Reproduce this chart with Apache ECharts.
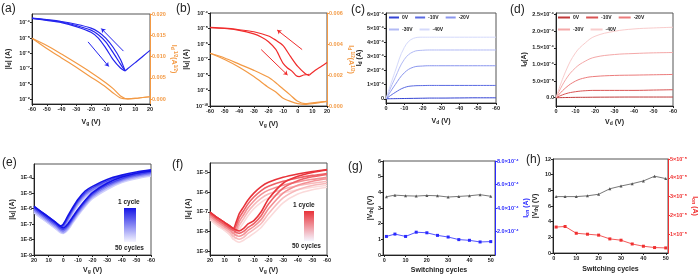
<!DOCTYPE html>
<html>
<head>
<meta charset="utf-8">
<script src="https://cdn.jsdelivr.net/npm/echarts@6/dist/echarts.min.js"></script>
<style>
html, body { margin: 0; padding: 0; background: #fff; }
#main { width: 700px; height: 275px; }
</style>
</head>
<body>
<div id="main"></div>
<script>
// ---------- (a) transfer curve, device 1 ----------
const aVg = [-60, -50, -40, -30, -20, -15, -10, -5, 0, 3];
const aLogIdRev = [-3.7, -3.8, -3.92, -4.1, -4.35, -4.6, -5.0, -5.6, -6.4, -7.1];
const aLogIdMid = [-3.71, -3.82, -3.95, -4.18, -4.48, -4.78, -5.25, -5.95, -6.7, -7.12];
const aLogIdFwd = [-3.72, -3.85, -3.99, -4.25, -4.62, -5.0, -5.65, -6.4, -6.95, -7.15];
const aVgRight = [3, 5, 10, 15, 20];
const aLogIdRight = [-7.15, -6.98, -6.6, -6.2, -5.8];
const aVgSq = [-60, -50, -40, -30, -20, -10, -5, 0, 5, 10, 20];
const aSqrtRev = [0.0143, 0.0126, 0.0106, 0.0085, 0.0063, 0.0039, 0.0025, 0.0008, 0.0001, 0.0002, 0.0006];
const aSqrtFwd = [0.0143, 0.0119, 0.0097, 0.0075, 0.0052, 0.0029, 0.0015, 0.0003, 0.0001, 0.0002, 0.0006];
const aArrows = [[[2, -5.85], [-13, -4.38]], [[-22, -5.25], [-8, -6.85]]];
const aLogTicks = [-9, -8, -7, -6, -5, -4];
const aSqrtTicks = [0, 0.005, 0.01, 0.015, 0.02];

// ---------- (b) transfer curve, device 2 ----------
const bVgRev = [-60, -50, -40, -30, -20, -15, -10, -5, 0, 5, 8];
const bLogIdRev = [-4.93, -4.98, -5.08, -5.21, -5.48, -5.75, -6.1, -6.8, -7.45, -7.9, -8.05];
const bVgFwd = [-60, -50, -40, -30, -25, -20, -15, -12, -10, -7, -4, -1, 1, 4, 8];
const bLogIdFwd = [-4.95, -5.0, -5.12, -5.35, -5.55, -5.85, -6.35, -6.9, -7.25, -7.55, -7.75, -8.05, -8.1, -8.0, -7.95];
const bVgRight = [8, 12, 16, 20];
const bLogIdRight = [-8.0, -7.7, -7.45, -7.2];
const bVgSq = [-60, -50, -40, -30, -20, -15, -10, -5, 0, 5, 10, 20];
const bSqrtRev = [0.0034, 0.0031, 0.0027, 0.0023, 0.00185, 0.0015, 0.0011, 0.0007, 0.0003, 0.00015, 0.0002, 0.0003];
const bSqrtFwd = [0.0034, 0.003, 0.0025, 0.0019, 0.0012, 0.0009, 0.0005, 0.0003, 0.00015, 0.0001, 0.00015, 0.0003];
const bArrows = [[[3, -6.36], [-14, -5.1]], [[-25, -6.36], [-7, -8.0]]];

// ---------- (c), (d) output curves ----------
const gateLabels = ['0V', '-10V', '-20V', '-30V', '-40V'];
const cVd = [0, -5, -10, -15, -20, -25, -30, -40, -50, -60];
const cId = [
  [0, 0.01e-4, 0.02e-4, 0.03e-4, 0.04e-4, 0.05e-4, 0.05e-4, 0.06e-4, 0.07e-4, 0.07e-4],
  [0, 0.45e-4, 0.8e-4, 0.92e-4, 0.94e-4, 0.95e-4, 0.95e-4, 0.95e-4, 0.95e-4, 0.95e-4],
  [0, 1.0e-4, 1.85e-4, 2.25e-4, 2.33e-4, 2.35e-4, 2.35e-4, 2.35e-4, 2.35e-4, 2.35e-4],
  [0, 1.5e-4, 2.8e-4, 3.35e-4, 3.45e-4, 3.47e-4, 3.47e-4, 3.47e-4, 3.47e-4, 3.47e-4],
  [0, 1.95e-4, 3.65e-4, 4.3e-4, 4.38e-4, 4.38e-4, 4.38e-4, 4.38e-4, 4.38e-4, 4.38e-4]
];
const cTicks = [0, 1e-4, 2e-4, 3e-4, 4e-4, 5e-4, 6e-4];
const cTickText = ['0', '1×10⁻⁴', '2×10⁻⁴', '3×10⁻⁴', '4×10⁻⁴', '5×10⁻⁴', '6×10⁻⁴'];

const dVd = [0, -5, -10, -15, -20, -30, -40, -50, -60];
const dId = [
  [0, 0.005e-4, 0.01e-4, 0.012e-4, 0.015e-4, 0.018e-4, 0.02e-4, 0.02e-4, 0.02e-4],
  [0, 0.12e-4, 0.18e-4, 0.21e-4, 0.22e-4, 0.22e-4, 0.22e-4, 0.23e-4, 0.24e-4],
  [0, 0.3e-4, 0.5e-4, 0.6e-4, 0.64e-4, 0.67e-4, 0.68e-4, 0.69e-4, 0.7e-4],
  [0, 0.55e-4, 0.9e-4, 1.1e-4, 1.22e-4, 1.3e-4, 1.33e-4, 1.35e-4, 1.36e-4],
  [0, 0.8e-4, 1.35e-4, 1.65e-4, 1.85e-4, 2.0e-4, 2.07e-4, 2.1e-4, 2.12e-4]
];
const dTicks = [0, 0.5e-4, 1e-4, 1.5e-4, 2e-4, 2.5e-4];
const dTickText = ['0.0', '5.0×10⁻⁵', '1.0×10⁻⁴', '1.5×10⁻⁴', '2.0×10⁻⁴', '2.5×10⁻⁴'];

// ---------- (e) 50 switching cycles, device 1 (cycles 1, 12, 25, 37, 50) ----------
const eVg = [20, 15, 10, 5, 2, 0, -3, -6, -10, -15, -20, -30, -40, -50, -60];
const eLogFwd = [
  [-5.85, -6.2, -6.55, -6.9, -7.1, -7.0, -6.5, -6.0, -5.4, -4.85, -4.55, -4.1, -3.82, -3.62, -3.48],
  [-5.95, -6.3, -6.65, -7.0, -7.2, -7.1, -6.6, -6.1, -5.5, -4.95, -4.65, -4.2, -3.9, -3.7, -3.56],
  [-6.05, -6.4, -6.75, -7.1, -7.3, -7.2, -6.7, -6.2, -5.6, -5.05, -4.75, -4.3, -3.98, -3.78, -3.64],
  [-6.15, -6.5, -6.85, -7.2, -7.4, -7.3, -6.8, -6.3, -5.7, -5.15, -4.85, -4.4, -4.06, -3.86, -3.72],
  [-6.25, -6.6, -6.95, -7.3, -7.5, -7.4, -6.9, -6.4, -5.8, -5.25, -4.95, -4.5, -4.15, -3.95, -3.8]
];
const eLogRev = [
  [-5.85, -6.2, -6.55, -6.9, -7.15, -7.25, -7.0, -6.6, -6.05, -5.45, -4.95, -4.35, -3.95, -3.7, -3.55],
  [-5.95, -6.3, -6.65, -7.0, -7.25, -7.35, -7.1, -6.7, -6.15, -5.55, -5.05, -4.45, -4.05, -3.8, -3.63],
  [-6.05, -6.4, -6.75, -7.1, -7.35, -7.45, -7.2, -6.8, -6.25, -5.65, -5.15, -4.55, -4.13, -3.88, -3.72],
  [-6.15, -6.5, -6.85, -7.2, -7.45, -7.55, -7.3, -6.9, -6.35, -5.75, -5.25, -4.65, -4.22, -3.96, -3.8],
  [-6.25, -6.6, -6.95, -7.3, -7.55, -7.6, -7.4, -7.0, -6.45, -5.85, -5.35, -4.75, -4.3, -4.05, -3.88]
];
const eLogTicks = [-9, -8, -7, -6, -5, -4];

// ---------- (f) 50 switching cycles, device 2 ----------
const fVg = [20, 15, 10, 6, 4, 2, 0, -3, -6, -10, -15, -20, -30, -40, -50, -60];
const fLogFwd = [
  [-7.02, -7.3, -7.55, -7.75, -7.85, -7.5, -7.1, -6.75, -6.4, -6.05, -5.72, -5.5, -5.25, -5.08, -4.95, -4.85],
  [-7.1, -7.4, -7.65, -7.85, -7.95, -7.7, -7.3, -6.95, -6.6, -6.25, -5.92, -5.7, -5.45, -5.28, -5.15, -5.05],
  [-7.2, -7.5, -7.75, -7.95, -8.1, -7.9, -7.5, -7.15, -6.8, -6.45, -6.12, -5.9, -5.65, -5.48, -5.35, -5.25],
  [-7.3, -7.6, -7.85, -8.08, -8.25, -8.1, -7.7, -7.35, -7.0, -6.65, -6.32, -6.1, -5.85, -5.68, -5.55, -5.45],
  [-7.4, -7.7, -7.95, -8.2, -8.4, -8.3, -7.9, -7.55, -7.2, -6.85, -6.52, -6.3, -6.05, -5.88, -5.75, -5.65]
];
const fLogRev = [
  [-7.02, -7.3, -7.55, -7.75, -7.85, -7.93, -7.98, -7.85, -7.62, -7.45, -7.0, -6.35, -5.55, -5.2, -5.0, -4.88],
  [-7.1, -7.4, -7.65, -7.85, -7.95, -8.05, -8.1, -8.0, -7.8, -7.6, -7.2, -6.6, -5.8, -5.42, -5.22, -5.1],
  [-7.2, -7.5, -7.75, -7.95, -8.1, -8.2, -8.25, -8.15, -7.95, -7.75, -7.4, -6.85, -6.05, -5.65, -5.45, -5.32],
  [-7.3, -7.6, -7.85, -8.08, -8.25, -8.35, -8.4, -8.3, -8.1, -7.9, -7.6, -7.1, -6.3, -5.88, -5.66, -5.55],
  [-7.4, -7.7, -7.95, -8.2, -8.4, -8.5, -8.55, -8.45, -8.3, -8.1, -7.8, -7.35, -6.55, -6.1, -5.88, -5.75]
];
const fLogTicks = [-9, -8, -7, -6, -5];

// ---------- (g), (h) Vth and Ion vs switching cycles ----------
const cycles = [1, 5, 10, 15, 20, 25, 30, 35, 40, 45, 50];
const cycleTicks = [0, 10, 20, 30, 40, 50];
const gVth = [3.72, 3.82, 3.78, 3.76, 3.8, 3.78, 3.7, 3.74, 3.78, 3.85, 3.75];
const gIon = [1.58e-4, 1.78e-4, 1.58e-4, 1.94e-4, 1.89e-4, 1.67e-4, 1.53e-4, 1.31e-4, 1.25e-4, 1.11e-4, 1.14e-4];
const gIonTicks = [2e-4, 4e-4, 6e-4, 8e-4];
const gIonText = ['2.0×10⁻⁴', '4.0×10⁻⁴', '6.0×10⁻⁴', '8.0×10⁻⁴'];
const hVth = [7.2, 7.2, 7.2, 7.3, 7.5, 8.2, 8.55, 8.85, 9.2, 9.8, 9.5];
const hIon = [1.38e-5, 1.41e-5, 1.05e-5, 1.0e-5, 0.95e-5, 0.75e-5, 0.68e-5, 0.48e-5, 0.36e-5, 0.29e-5, 0.27e-5];
const hIonTicks = [1e-5, 2e-5, 3e-5, 4e-5, 5e-5];
const hIonText = ['1×10⁻⁵', '2×10⁻⁵', '3×10⁻⁵', '4×10⁻⁵', '5×10⁻⁵'];

// ---------- helpers ----------
const FONT = 'Liberation Sans';
const BLUE = '#2424ee', ORANGE = '#f39a45', RED = '#f02c2c', GREY = '#555';
const cColors = ['#3444d4', '#5a6ae2', '#8a96ee', '#b2baf5', '#d4d9fb'];
const dColors = ['#c03a3a', '#d95454', '#ec7c7c', '#f4a8a8', '#f9cccc'];
const eColors = ['#1414e6', '#4646ee', '#7878f3', '#a6a6f8', '#cfcffc'];
const fColors = ['#e8333a', '#ee6167', '#f39195', '#f7b9bb', '#fbdada'];

function sup(s) {
  const m = { '-': '⁻', '0': '⁰', '1': '¹', '2': '²', '3': '³', '4': '⁴', '5': '⁵', '6': '⁶', '7': '⁷', '8': '⁸', '9': '⁹' };
  return String(s).split('').map(c => m[c] || c).join('');
}

function merge(a, b) {
  for (const k in b) {
    if (b[k] && typeof b[k] === 'object' && !Array.isArray(b[k]) && a[k] && typeof a[k] === 'object') merge(a[k], b[k]);
    else a[k] = b[k];
  }
  return a;
}

function pick(ticks, texts) {
  return v => {
    const i = ticks.findIndex(t => Math.abs(t - v) < Math.abs(t) * 1e-6 + 1e-12);
    return i < 0 ? '' : texts[i];
  };
}

function rich(color) {
  return {
    b: { fontSize: 7, fontWeight: 'bold', fontFamily: FONT, color: color },
    s: { fontSize: 5, fontWeight: 'bold', fontFamily: FONT, color: color, verticalAlign: 'bottom', padding: [3, 0, 0, 0] },
    p: { fontSize: 4.5, fontWeight: 'bold', fontFamily: FONT, color: color, verticalAlign: 'top', padding: [0, 0, 3, 0] }
  };
}

function axis(o, color) {
  color = color || '#222';
  return merge({
    type: 'value',
    axisLine: { show: true, onZero: false, lineStyle: { color: color, width: 1 } },
    axisTick: { show: true, length: 2, lineStyle: { color: color } },
    axisLabel: { fontSize: 5.5, fontWeight: 'bold', fontFamily: FONT, color: color, margin: 2 },
    splitLine: { show: false },
    nameLocation: 'middle',
    nameTextStyle: { rich: rich(color) }
  }, o);
}

function custom(ticks, fmt) {
  return { axisLabel: { customValues: ticks, formatter: fmt }, axisTick: { customValues: ticks } };
}

function line(name, xs, ys, xi, yi, color, width, extra) {
  return merge({
    name: name, type: 'line', xAxisIndex: xi, yAxisIndex: yi,
    data: xs.map((x, i) => [x, ys[i]]),
    showSymbol: false, smooth: 0.25, silent: true,
    lineStyle: { color: color, width: width || 1 },
    itemStyle: { color: color }
  }, extra || {});
}

function arrows(list, color) {
  return {
    silent: true, symbol: ['none', 'arrow'], symbolSize: 4,
    label: { show: false },
    lineStyle: { color: color, width: 1, type: 'solid' },
    data: list.map(a => [{ coord: a[0] }, { coord: a[1] }])
  };
}

const logFmt = v => '10' + sup(Math.round(v));
const eFmt = v => '1E' + Math.round(v);
const vgName = '{b|V}{s|g}{b| (V)}';
const vdName = '{b|V}{s|d}{b| (V)}';
const idAbsName = '{b||I}{s|d}{b|| (A)}';
const sqrtName = '{b|I}{s|d}{p| 1/2}{b|(A}{p|1/2}{b|)}';
const vthName = '{b||V}{s|th}{b|| (V)}';
const ionName = '{b|I}{s|on}{b| (A)}';

// ---------- grids ----------
const grids = [
  { left: 32, top: 14, width: 118, height: 90 },
  { left: 210, top: 13, width: 117, height: 93 },
  { left: 386, top: 13, width: 110, height: 90 },
  { left: 556, top: 13, width: 117, height: 93 },
  { left: 34, top: 164, width: 117, height: 93 },
  { left: 210, top: 163, width: 117, height: 94 },
  { left: 383, top: 161, width: 112, height: 94 },
  { left: 553, top: 159, width: 115, height: 94 }
].map(g => Object.assign(g, { show: true, borderColor: '#555', borderWidth: 1 }));

const xAxes = [
  axis({ gridIndex: 0, min: -60, max: 20, interval: 10, name: vgName, nameGap: 14 }),
  axis({ gridIndex: 1, min: -60, max: 20, interval: 10, name: vgName, nameGap: 14 }),
  axis({ gridIndex: 2, min: -60, max: 0, interval: 10, inverse: true, name: vdName, nameGap: 14 }),
  axis({ gridIndex: 3, min: -60, max: 0, interval: 10, inverse: true, name: vdName, nameGap: 12 }),
  axis({ gridIndex: 4, min: -60, max: 20, interval: 10, inverse: true, name: vgName, nameGap: 11 }),
  axis({ gridIndex: 5, min: -60, max: 20, interval: 10, inverse: true, name: vgName, nameGap: 11 }),
  axis(merge({ gridIndex: 6, min: -0.6, max: 52, name: 'Switching cycles', nameGap: 12,
    nameTextStyle: { fontSize: 7, fontWeight: 'bold', fontFamily: FONT, color: '#222' } }, custom(cycleTicks, v => String(Math.round(v))))),
  axis(merge({ gridIndex: 7, min: -0.4, max: 51, name: 'Switching cycles', nameGap: 13,
    nameTextStyle: { fontSize: 7, fontWeight: 'bold', fontFamily: FONT, color: '#222' } }, custom(cycleTicks, v => String(Math.round(v)))))
];

const yAxes = [
  axis(merge({ gridIndex: 0, min: -9.3, max: -3.43, name: idAbsName, nameGap: 20 }, custom(aLogTicks, logFmt))),
  axis(merge({ gridIndex: 0, position: 'right', min: -0.0011, max: 0.02, name: sqrtName, nameGap: 17, nameRotate: -90 },
    custom(aSqrtTicks, v => v.toFixed(3))), ORANGE),
  axis({ gridIndex: 1, min: -10, max: -4, interval: 1, name: idAbsName, nameGap: 20, axisLabel: { formatter: logFmt } }),
  axis({ gridIndex: 1, position: 'right', min: 0, max: 0.006, interval: 0.002, name: sqrtName, nameGap: 15, nameRotate: -90,
    axisLabel: { formatter: v => v.toFixed(3) } }, ORANGE),
  axis(merge({ gridIndex: 2, min: -0.3e-4, max: 6.1e-4, name: '{b|I}{s|d}{b| (A)}', nameGap: 21 }, custom(cTicks, pick(cTicks, cTickText)))),
  axis(merge({ gridIndex: 3, min: -0.25e-4, max: 2.55e-4, name: '{b|I}{s|d}{b|(A)}', nameGap: 28 }, custom(dTicks, pick(dTicks, dTickText)))),
  axis(merge({ gridIndex: 4, min: -9, max: -3.1, name: idAbsName, nameGap: 18 }, custom(eLogTicks, eFmt))),
  axis(merge({ gridIndex: 5, min: -9.2, max: -4.52, name: idAbsName, nameGap: 15 }, custom(fLogTicks, eFmt))),
  axis({ gridIndex: 6, min: 0, max: 6, interval: 1, name: vthName, nameGap: 9 }),
  axis(merge({ gridIndex: 6, position: 'right', min: 0, max: 8e-4, name: ionName, nameGap: 27, nameRotate: 90 },
    custom(gIonTicks, pick(gIonTicks, gIonText))), '#2a2aff'),
  axis({ gridIndex: 7, min: 0, max: 12, interval: 2, name: vthName, nameGap: 14 }),
  axis(merge({ gridIndex: 7, position: 'right', min: 0, max: 5e-5, name: ionName, nameGap: 21, nameRotate: -90 },
    custom(hIonTicks, pick(hIonTicks, hIonText))), '#f03030')
];

// ---------- series ----------
const series = [];
// (a)
series.push(line('aSqrtRev', aVgSq, aSqrtRev, 0, 1, ORANGE, 1.2));
series.push(line('aSqrtFwd', aVgSq, aSqrtFwd, 0, 1, ORANGE, 1.2));
series.push(line('aRev', aVg, aLogIdRev, 0, 0, BLUE, 1.2, { markLine: arrows(aArrows, BLUE) }));
series.push(line('aMid', aVg, aLogIdMid, 0, 0, BLUE, 1.2));
series.push(line('aFwd', aVg, aLogIdFwd, 0, 0, BLUE, 1.2));
series.push(line('aRight', aVgRight, aLogIdRight, 0, 0, BLUE, 1.2));
// (b)
series.push(line('bSqrtRev', bVgSq, bSqrtRev, 1, 3, ORANGE, 1.2));
series.push(line('bSqrtFwd', bVgSq, bSqrtFwd, 1, 3, ORANGE, 1.2));
series.push(line('bRev', bVgRev, bLogIdRev, 1, 2, RED, 1.2, { markLine: arrows(bArrows, RED) }));
series.push(line('bFwd', bVgFwd, bLogIdFwd, 1, 2, RED, 1.2));
series.push(line('bRight', bVgRight, bLogIdRight, 1, 2, RED, 1.2));
// (c), (d)
gateLabels.forEach((g, i) => {
  series.push(line('c' + g, cVd, cId[i], 2, 4, cColors[i], 1, { smooth: 0.4 }));
});
gateLabels.forEach((g, i) => {
  series.push(line('d' + g, dVd, dId[i], 3, 5, dColors[i], 1, { smooth: 0.4 }));
});
// (e), (f) lightest cycle first so cycle 1 sits on top
for (let i = eLogFwd.length - 1; i >= 0; i--) {
  series.push(line('eF' + i, eVg, eLogFwd[i], 4, 6, eColors[i], 1.6));
  series.push(line('eR' + i, eVg, eLogRev[i], 4, 6, eColors[i], 1.6));
}
for (let i = fLogFwd.length - 1; i >= 0; i--) {
  series.push(line('fF' + i, fVg, fLogFwd[i], 5, 7, fColors[i], 1.6));
  series.push(line('fR' + i, fVg, fLogRev[i], 5, 7, fColors[i], 1.6));
}
// (g), (h)
const pts = { showSymbol: true, smooth: false, symbolSize: 3 };
series.push(line('gVth', cycles, gVth, 6, 8, GREY, 0.8, merge({ symbol: 'triangle' }, pts)));
series.push(line('gIon', cycles, gIon, 6, 9, '#2a2aff', 0.8, merge({ symbol: 'rect' }, pts)));
series.push(line('hVth', cycles, hVth, 7, 10, GREY, 0.8, merge({ symbol: 'triangle' }, pts)));
series.push(line('hIon', cycles, hIon, 7, 11, '#f03030', 0.8, merge({ symbol: 'rect' }, pts)));

// ---------- legends ----------
function legend(prefix, left, width, iw) {
  return {
    data: gateLabels.map(g => prefix + g), formatter: n => n.slice(1),
    left: left, top: 15, width: width, padding: 0, icon: 'rect',
    itemWidth: iw, itemHeight: 2, itemGap: 7, selectedMode: false,
    textStyle: { fontSize: 5, fontWeight: 'bold', fontFamily: FONT, color: '#222', padding: [0, 0, 0, -2] }
  };
}

// ---------- annotations ----------
function label(t, x, y) {
  return { type: 'text', left: x, top: y, style: { text: t, font: '12px ' + FONT, fill: '#222' } };
}
function note(t, x, y) {
  return { type: 'text', left: x, top: y, style: { text: t, font: 'bold 6.5px ' + FONT, fill: '#222' } };
}
function bar(x, y, w, h, c) {
  return { type: 'rect', shape: { x: x, y: y, width: w, height: h },
    style: { fill: { type: 'linear', x: 0, y: 0, x2: 0, y2: 1, colorStops: [{ offset: 0, color: c }, { offset: 1, color: '#f6f6ff' }] } } };
}

var myChart = echarts.init(document.getElementById('main'));
myChart.setOption({
  animation: false,
  backgroundColor: '#fff',
  grid: grids,
  xAxis: xAxes,
  yAxis: yAxes,
  legend: [legend('c', 389, 85, 10), legend('d', 558, 100, 12)],
  series: series,
  graphic: [
    label('(a)', 1, 3), label('(b)', 176, 3), label('(c)', 351, 4), label('(d)', 510, 4),
    label('(e)', 2, 157), label('(f)', 172, 159), label('(g)', 348, 161), label('(h)', 526, 154),
    bar(124, 208, 12, 34, '#1414e6'), note('1 cycle', 118, 199), note('50 cycles', 115, 245),
    bar(304, 211, 10, 30, '#e8333a'), note('1 cycle', 293, 202), note('50 cycles', 292, 243)
  ]
});
</script>
</body>
</html>
